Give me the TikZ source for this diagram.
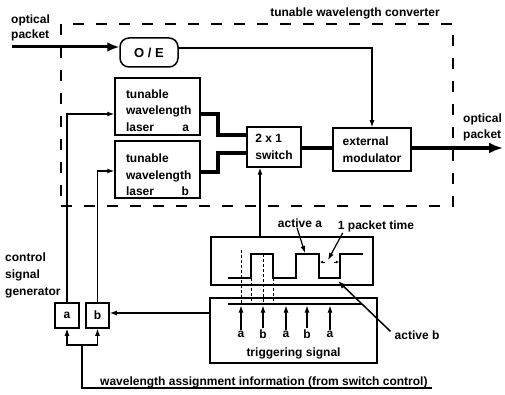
\documentclass[tikz,border=0pt]{standalone}
\usepackage{fontspec}
\setmainfont{Liberation Sans}
\usetikzlibrary{arrows.meta,calc}
\begin{document}
\begin{tikzpicture}[x=1pt,y=-1pt,
  every node/.style={font=\fontsize{12}{16.5}\selectfont\bfseries, inner sep=0pt},
  blk/.style={draw, line width=1.5pt},
  thin/.style={line width=1.2pt},
  arr/.style={line width=1.2pt,-{Latex[length=7pt,width=5pt]}},
  fat/.style={line width=4pt},
  dsh/.style={line width=0.9pt, dash pattern=on 3pt off 2pt},
  wave/.style={line width=1.6pt}]
\useasboundingbox (0,0) rectangle (505,395);

% dashed converter frame
\node[draw, line width=2pt, dash pattern=on 11pt off 12pt, minimum width=392pt, minimum height=182pt] (conv) at (257,115) {};
\node (convlbl) at (355,13) {tunable wavelength converter};

% blocks
\node[blk, rounded corners=9pt, minimum width=58pt, minimum height=29pt] (oe) at (149,52.5) {};
\node (oetxt) at (149,53) {\fontsize{13}{15}\selectfont O / E};
\node[blk, minimum width=85pt, minimum height=57pt] (lasera) at (157.5,106.5) {};
\node[text width=63pt, align=left] (laseratxt) at (157.5,110.5) {tunable\\wavelength\\laser\hfill a};
\node[blk, minimum width=85pt, minimum height=57pt] (laserb) at (157.5,169.5) {};
\node[text width=63pt, align=left] (laserbtxt) at (157.5,175) {tunable\\wavelength\\laser\hfill b};
\node[blk, minimum width=54pt, minimum height=40pt, align=left] (sw) at (274,147) {2 x 1\\switch};
\node[blk, minimum width=78pt, minimum height=43pt, align=left] (mod) at (372,149.5) {external\\modulator};

% in/out labels
\node[align=left, anchor=west, font=\fontsize{12}{15}\selectfont\bfseries] (inlbl) at (11,27.5) {optical\\packet};
\node[align=left, anchor=west, font=\fontsize{12}{16}\selectfont\bfseries] (outlbl) at (463,127) {optical\\packet};
\coordinate (instart) at (12,47);
\coordinate (outend) at (503,148);

\draw[line width=3pt, -{Latex[length=12pt,width=10pt]}] (instart) -- ([yshift=5.5pt]oe.west);
\draw[arr] ([yshift=4.5pt]oe.east) -| (mod.north);
\draw[fat] ([yshift=-7.5pt]lasera.east) -- ++(17,0) |- ([yshift=12pt]sw.west);
\draw[fat] ([yshift=-2.5pt]laserb.east) -- ++(17,0) |- ([yshift=-6pt]sw.west);
\draw[fat] (sw.east |- mod.west) ++(0,-1.5) -- ([yshift=1.5pt]mod.west);
\draw[line width=4.5pt, -{Latex[length=14pt,width=11pt]}] ([yshift=1.5pt]mod.east) -- (outend);

% control signal generator
\node[align=left, anchor=west, font=\fontsize{12}{17}\selectfont\bfseries] (cgl) at (5,275) {control\\signal\\generator};
\node[blk, minimum width=24pt, minimum height=25pt] (ga) at (67,315.5) {a};
\node[blk, minimum width=23pt, minimum height=25pt] (gb) at (97.5,315.5) {b};
\draw[arr] (ga.north) |- ([yshift=-7.5pt]lasera.west);
\draw[arr] (gb.north) |- ([yshift=-1.5pt]laserb.west);

% timing and triggering boxes
\node[blk, minimum width=162pt, minimum height=48pt] (timing) at (292,261) {};
\node[blk, minimum width=167pt, minimum height=65pt] (trig) at (293.5,330.5) {};
\node (trigtxt) at (293.5,353) {triggering signal};
\draw[arr] ([xshift=-14pt]sw.south |- timing.north) -- ([xshift=-14pt]sw.south);
\draw[arr] ([yshift=17.5pt]trig.west) -- ([yshift=17.5pt]trig.west -| gb.east);

% waveform
\draw[wave] (228,278) -- (251,278) -- (251,254) -- (273,254) -- (273,278) -- (296,278) -- (296,254)
  -- (319,254) -- (319,278) -- (340,278) -- (340,254) -- (363,254);
\draw[dsh] (241,250) -- (241,304);
\draw[dsh] (251,278) -- (251,304);
\draw[dsh] (263,254) -- (263,304);
\draw[dsh] (273,278) -- (273,304);
\coordinate (tl0) at (228,304);
\coordinate (tl1) at (362,304);
\draw[wave] (tl0) -- (tl1);

% trigger arrows
\foreach \x/\l [count=\i] in {241/a,263/b,286/a,307/b,330/a}{
  \node (tg\i) at (\x,334) {\l};
  \draw[arr] ([yshift=1pt]tg\i.north) -- (\x,305.5);
}

% annotations
\node (acta) at (300,223) {active a};
\coordinate (pa) at (305,253);
\draw[arr] ([xshift=-3pt]acta.south) -- (pa);
\node (pkt) at (376,226) {1 packet time};
\coordinate (pk) at (328,260);
\draw[arr] ([xshift=5pt,yshift=-1pt]pkt.south west) -- (pk);
\draw[line width=0.9pt,-{Latex[length=3pt,width=3pt]}] (325,262) -- (320,262);
\draw[line width=0.9pt,-{Latex[length=3pt,width=3pt]}] (334,262) -- (339,262);
\node (actb) at (417,335) {active b};
\coordinate (pb) at (338,281);
\draw[line width=1.5pt,-{Latex[length=8pt,width=6pt]}] ([xshift=-4pt,yshift=-1pt]actb.north west) -- (pb);

% wavelength assignment information
\coordinate (wj) at (82,345);
\coordinate (wend) at (432,388);
\node[anchor=base west] (winfo) at (100,385) {wavelength assignment information (from switch control)};
\draw[thin] (wend) -| (wj);
\draw[arr] (wj) -| (ga.south);
\draw[arr] (wj) -| (gb.south);
\end{tikzpicture}
\end{document}
